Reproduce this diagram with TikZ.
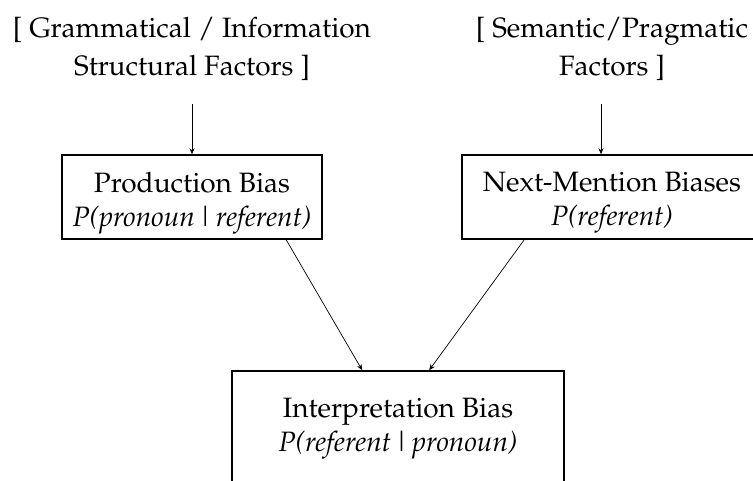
\documentclass[tikz,border=0pt]{standalone}
\usepackage[T1]{fontenc}
\usepackage{mathpazo}
\usetikzlibrary{arrows.meta,calc}
\tikzset{
  factor/.style={align=center,inner sep=0pt,font=\fontsize{28}{38}\selectfont},
  biasbox/.style={draw,line width=1.6pt,inner sep=0pt},
  biastext/.style={align=center,inner sep=0pt,font=\fontsize{28}{34}\selectfont},
  arr/.style={line width=0.7pt,-{Stealth[length=6pt,width=5pt]}},
}
\newcommand{\condbar}{\kern2pt\textup{\textbar}\kern2pt}
\begin{document}
\begin{tikzpicture}[x=1pt,y=-1pt]
\useasboundingbox (0,0) rectangle (753,480);
\clip (0,0) rectangle (753,480);
\node[factor] (lf) at (192,49) {[ Grammatical / Information\\Structural Factors ]};
\node[factor] (rf) at (612,49) {[ Semantic/Pragmatic\\Factors ]};
\node[biasbox,minimum width=260pt,minimum height=84pt] (lb) at (192,197) {};
\node[biastext] (lbt) at (192,203) {Production Bias\\\textit{P(pronoun\condbar referent)}};
\node[biasbox,minimum width=300pt,minimum height=84pt] (rb) at (612,197) {};
\node[biastext] (rbt) at (612,203) {Next-Mention Biases\\\textit{P(referent)}};
\node[biasbox,minimum width=332pt,minimum height=112pt] (bb) at (398,427) {};
\node[biastext] (bbt) at (398,429) {Interpretation Bias\\\textit{P(referent\condbar pronoun)}};
\coordinate (lfa) at (192,104);
\coordinate (rfa) at (601,104);
\draw[arr] (lfa) -- (lfa |- lb.north);
\draw[arr] (rfa) -- (rfa |- rb.north);
\draw[arr] ($(lb.south west)+(225,0)$) -- ($(bb.north west)+(131,0)$);
\draw[arr] ($(rb.south west)+(63,0)$) -- ($(bb.north west)+(198,0)$);
\end{tikzpicture}
\end{document}
